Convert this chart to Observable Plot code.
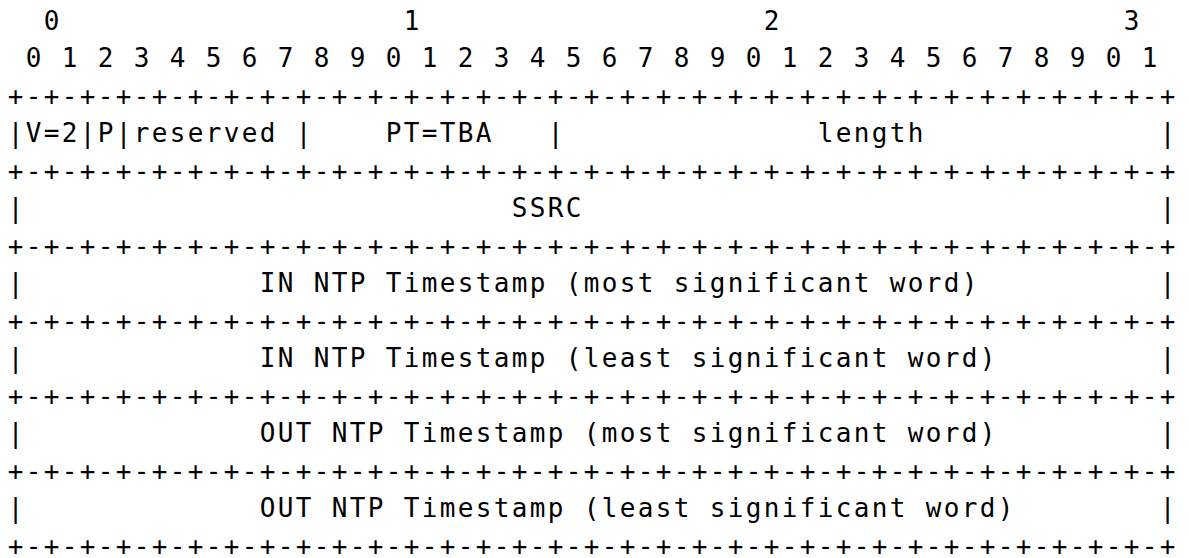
<!DOCTYPE html>
<html>
<head>
<meta charset="utf-8">
<script src="https://cdn.jsdelivr.net/npm/d3@7"></script>
<script src="https://cdn.jsdelivr.net/npm/@observablehq/plot@0.6"></script>
<style>
  html, body { margin: 0; padding: 0; background: #ffffff; }
  #chart svg { display: block; }
</style>
</head>
<body>
<div id="chart"></div>
<script>
// Bit-ruler rows (tens digit and units digit of the bit offset)
const tensRow  = "  0                   1                   2                   3";
const unitsRow = " 0 1 2 3 4 5 6 7 8 9 0 1 2 3 4 5 6 7 8 9 0 1 2 3 4 5 6 7 8 9 0 1";
// Separator row between the 32-bit words
const borderRow = "+-+-+-+-+-+-+-+-+-+-+-+-+-+-+-+-+-+-+-+-+-+-+-+-+-+-+-+-+-+-+-+-+";
// One text row per 32-bit word of the packet
const wordRows = [
  "|V=2|P|reserved |    PT=TBA   |              length             |",
  "|                           SSRC                                |",
  "|             IN NTP Timestamp (most significant word)          |",
  "|             IN NTP Timestamp (least significant word)         |",
  "|             OUT NTP Timestamp (most significant word)         |",
  "|             OUT NTP Timestamp (least significant word)        |"
];

// Assemble the full diagram: ruler, then border / word / border ...
const lines = [tensRow, unitsRow, borderRow];
for (const w of wordRows) { lines.push(w, borderRow); }

// One record per visible character, positioned on a (column,row) grid
const glyphs = [];
lines.forEach((line, row) => {
  Array.from(line).forEach((ch, col) => {
    if (ch !== " ") glyphs.push({row, col, ch});
  });
});

const chart = Plot.plot({
  width: 1189,
  height: 558,
  margin: 0,
  x: {domain: [0, 64], range: [15, 1167], axis: null},
  y: {domain: [0, 14], range: [21, 546], axis: null},
  marks: [
    Plot.text(glyphs, {
      x: "col",
      y: "row",
      text: "ch",
      fontFamily: "DejaVu Sans Mono",
      fontSize: 26,
      fill: "#000000",
      textAnchor: "middle",
      lineAnchor: "middle"
    })
  ]
});
document.getElementById("chart").appendChild(chart);
</script>
</body>
</html>
